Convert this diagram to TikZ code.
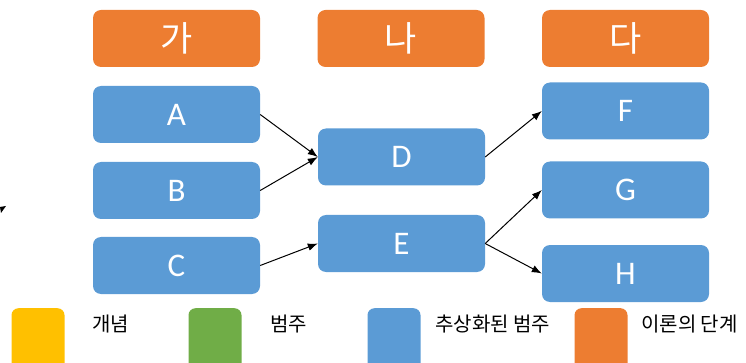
\documentclass[tikz,border=0pt]{standalone}
\usepackage{fontspec}
\setmainfont{Carlito}
\newfontfamily\krfont{Noto Sans CJK KR}
\usetikzlibrary{arrows.meta}

\definecolor{stageorange}{HTML}{ED7D31}
\definecolor{catblue}{HTML}{5B9BD5}
\definecolor{conceptyellow}{HTML}{FFC000}
\definecolor{catgreen}{HTML}{70AD47}

\tikzset{
    stagebox/.style={fill=stageorange, rounded corners=8pt, minimum width=167pt,
        minimum height=57pt, inner sep=0pt, text=white,
        font=\krfont\fontsize{35}{35}\selectfont},
    catbox/.style={fill=catblue, rounded corners=8pt, minimum width=167pt,
        minimum height=57pt, inner sep=0pt, text=white,
        font=\fontsize{33}{33}\selectfont},
    keybox/.style={rounded corners=7pt, minimum width=53pt, minimum height=62pt,
        inner sep=0pt, anchor=north},
    keytext/.style={anchor=west, inner sep=0pt,
        font=\krfont\fontsize{20}{20}\selectfont},
    flow/.style={-{Latex[length=10pt,width=7.5pt]}, line width=1pt}
}

\begin{document}
\begin{tikzpicture}[x=1pt, y=-1pt]
\useasboundingbox (0, 0) rectangle (746, 363);

% stages
\node[stagebox] (ga) at (176.5, 38.5) {가};
\node[stagebox] (na) at (401, 38.5) {나};
\node[stagebox] (da) at (625.5, 38.5) {다};

% abstracted categories
\node[catbox] (a) at (176.5, 114.5) {A};
\node[catbox] (b) at (176.5, 190.5) {B};
\node[catbox] (c) at (176.5, 265.5) {C};
\node[catbox] (d) at (401.5, 157) {D};
\node[catbox] (e) at (401.5, 243.5) {E};
\node[catbox] (f) at (625.5, 111) {F};
\node[catbox] (g) at (625.5, 190) {G};
\node[catbox] (h) at (625.5, 273.5) {H};

\foreach \from/\to in {a/d, b/d, c/e, d/f, e/g, e/h} {
    \draw[flow] (\from.east) -- (\to.west);
}

% cut-off tip at the left edge
\fill (0, 207) -- (6, 206) -- (1, 213) -- cycle;

% legend
\node[keybox, fill=conceptyellow] (keyconcept) at (38, 308) {};
\node[keybox, fill=catgreen] (keycat) at (215, 308) {};
\node[keybox, fill=catblue] (keyabs) at (394, 308) {};
\node[keybox, fill=stageorange] (keystage) at (601, 308) {};

\node[keytext] (lconcept) at (92, 324) {개념};
\node[keytext] (lcat) at (270, 324) {범주};
\node[keytext] (labs) at (435, 324) {추상화된 범주};
\node[keytext] (lstage) at (641, 324) {이론의 단계};
\end{tikzpicture}
\end{document}
